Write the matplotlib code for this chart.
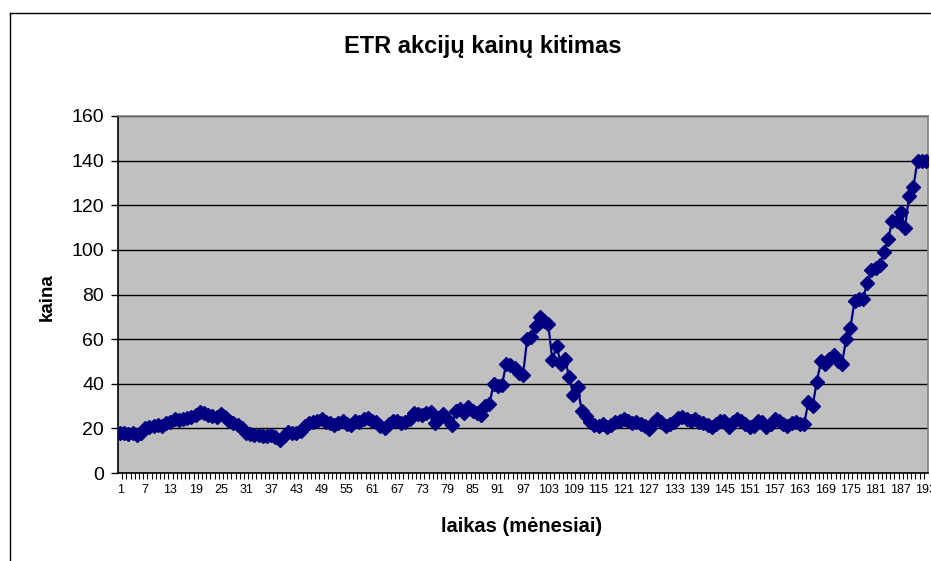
import matplotlib.pyplot as plt
import numpy as np
from matplotlib.lines import Line2D

plt.rcParams["font.family"] = ["Liberation Sans", "DejaVu Sans"]

# ETR akcijų kaina kiekvienam mėnesiui (1..193)
kaina = [
    17.8, 17.8, 17.3, 17.8, 17.0, 17.8, 20.3, 20.8, 21.2, 21.5,
    21.2, 22.3, 23.0, 24.2, 23.8, 24.2, 24.5, 25.3, 26.0, 27.2,
    26.8, 26.0, 25.7, 25.3, 26.5, 25.3, 23.3, 22.3, 21.5, 20.0,
    18.0, 17.5, 17.0, 17.0, 16.5, 16.5, 17.0, 16.0, 15.0, 16.5,
    18.5, 18.0, 18.0, 19.0, 21.0, 22.5, 23.0, 23.5, 24.0, 23.0,
    22.5, 21.5, 22.5, 23.5, 22.0, 21.5, 23.5, 23.0, 24.0, 24.5,
    23.5, 23.0, 21.0, 20.0, 22.0, 23.5, 23.5, 22.5, 23.0, 24.0,
    27.0, 26.5, 26.0, 27.0, 27.5, 22.5, 24.5, 26.5, 24.0, 21.5,
    28.0, 28.5, 27.0, 29.5, 28.0, 27.0, 26.0, 30.0, 31.0, 40.0,
    39.0, 39.5, 49.0, 48.5, 47.0, 45.0, 44.0, 60.0, 61.0, 66.0,
    70.0, 68.0, 67.0, 50.5, 57.0, 49.0, 51.0, 43.0, 35.0, 38.5,
    28.0, 25.5, 23.0, 21.5, 21.0, 22.0, 20.5, 21.5, 23.0, 23.5,
    24.0, 23.5, 22.5, 23.0, 22.0, 21.0, 19.5, 22.5, 24.0, 23.0,
    21.0, 22.0, 23.0, 24.5, 25.0, 24.0, 23.5, 24.0, 23.0, 22.5,
    21.5, 20.5, 22.0, 23.5, 23.5, 20.5, 23.0, 24.0, 23.5, 22.0,
    20.5, 21.0, 23.5, 23.0, 20.5, 22.0, 24.0, 23.5, 22.0, 21.0,
    22.5, 23.0, 22.0, 22.0, 32.0, 30.0, 41.0, 50.0, 49.0, 51.0,
    53.0, 50.0, 49.0, 60.0, 65.0, 77.0, 78.0, 78.0, 85.0, 91.0,
    92.0, 93.0, 99.0, 105.0, 113.0, 113.0, 117.0, 110.0, 124.0, 128.0,
    140.0, 140.0, 140.0,
]
menuo = np.arange(1, len(kaina) + 1)
x_labels = menuo[::6]
y_ticks = [0, 20, 40, 60, 80, 100, 120, 140, 160]

W, H = 931, 561
fig = plt.figure(figsize=(W / 100, H / 100), dpi=100)
fig.patch.set_facecolor("white")

# plot area, measured in pixels of the reference
left, right, top, bottom = 118, 928, 116, 473
ax = fig.add_axes([left / W, 1 - bottom / H, (right - left) / W, (bottom - top) / H])
ax.set_facecolor("#c0c0c0")

ax.plot(menuo, kaina, "-", color="#000080", lw=1.6, marker="D",
        markersize=7, markerfacecolor="#000080", markeredgecolor="#000080",
        zorder=3)

ax.set_xlim(0.5, len(kaina) + 0.5)
ax.set_ylim(0, 160)

# y axis
ax.set_yticks(y_ticks)
ax.tick_params(axis="y", direction="out", length=5, width=1, color="black",
               labelsize=14, pad=5)
ax.yaxis.grid(True, color="black", lw=1)
ax.set_axisbelow(True)

# x axis: tick mark between every category, label every 6th
ax.set_xticks(menuo[:-1] + 0.5, minor=True)
ax.set_xticks(x_labels)
ax.set_xticklabels([str(v) for v in x_labels])
ax.tick_params(axis="x", which="major", length=0, labelsize=9, pad=8)
ax.tick_params(axis="x", which="minor", direction="out", length=4, width=0.8,
               color="black")

for s in ("top", "right"):
    ax.spines[s].set_color("#808080")
    ax.spines[s].set_linewidth(1.2)
for s in ("left", "bottom"):
    ax.spines[s].set_color("black")
    ax.spines[s].set_linewidth(1.2)

fig.text(483 / W, 1 - 47 / H, "ETR akcijų kainų kitimas", ha="center",
         va="center", fontsize=17, fontweight="bold")
fig.text(47 / W, 1 - 297 / H, "kaina", ha="center", va="center",
         rotation=90, fontsize=13.5, fontweight="bold")
fig.text(522 / W, 1 - 527 / H, "laikas (mėnesiai)", ha="center",
         va="center", fontsize=14.5, fontweight="bold")

# chart border (cut off at right and bottom in the reference)
bx, by = 10 / W, 1 - 13 / H
fig.add_artist(Line2D([bx, bx], [0, by], color="black", lw=1))
fig.add_artist(Line2D([bx, 1], [by, by], color="black", lw=1))

fig.savefig("out.png", dpi=100)
